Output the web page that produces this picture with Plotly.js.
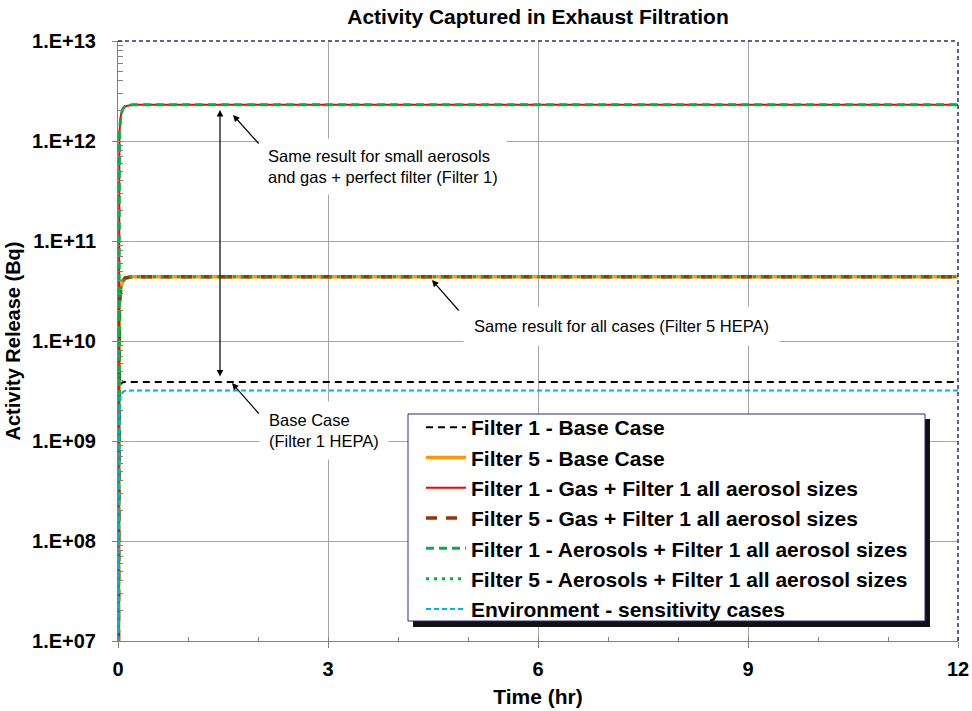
<!DOCTYPE html>
<html>
<head>
<meta charset="utf-8">
<script src="https://cdn.plot.ly/plotly-3.0.1.min.js"></script>
<style>html,body{margin:0;padding:0;background:#fff;}#chart{width:972px;height:711px;}</style>
</head>
<body>
<div id="chart"></div>
<script>
// ---- data ----
const timeHr = [0, 0.01, 0.02, 0.04, 0.07, 0.1, 0.15, 0.2, 1, 3, 6, 9, 12];
const filter1Base = [1e5, 2.0e9, 3.3e9, 3.75e9, 3.87e9, 3.9e9, 3.9e9, 3.9e9, 3.9e9, 3.9e9, 3.9e9, 3.9e9, 3.9e9];
const filter5Base = [1e5, 1.2e10, 2.3e10, 3.4e10, 4.0e10, 4.25e10, 4.35e10, 4.4e10, 4.4e10, 4.4e10, 4.4e10, 4.4e10, 4.4e10];
const filter1Gas = [1e5, 6e11, 1.2e12, 1.8e12, 2.1e12, 2.22e12, 2.28e12, 2.3e12, 2.3e12, 2.3e12, 2.3e12, 2.3e12, 2.3e12];
const filter5Gas = [1e5, 1.2e10, 2.3e10, 3.4e10, 4.0e10, 4.25e10, 4.35e10, 4.4e10, 4.4e10, 4.4e10, 4.4e10, 4.4e10, 4.4e10];
const filter1Aero = [1e5, 6e11, 1.2e12, 1.8e12, 2.1e12, 2.22e12, 2.28e12, 2.3e12, 2.3e12, 2.3e12, 2.3e12, 2.3e12, 2.3e12];
const filter5Aero = [1e5, 1.2e10, 2.3e10, 3.4e10, 4.0e10, 4.25e10, 4.35e10, 4.4e10, 4.4e10, 4.4e10, 4.4e10, 4.4e10, 4.4e10];
const environment = [1e5, 1.0e9, 2.0e9, 2.8e9, 3.1e9, 3.17e9, 3.2e9, 3.2e9, 3.2e9, 3.2e9, 3.2e9, 3.2e9, 3.2e9];

const seriesNames = [
  'Filter 1 - Base Case',
  'Filter 5 - Base Case',
  'Filter 1 - Gas + Filter 1 all aerosol sizes',
  'Filter 5 - Gas + Filter 1 all aerosol sizes',
  'Filter 1 - Aerosols + Filter 1 all aerosol sizes',
  'Filter 5 - Aerosols + Filter 1 all aerosol sizes',
  'Environment - sensitivity cases'
];

const xTickVals = [0, 3, 6, 9, 12];
const yTickVals = [1e7, 1e8, 1e9, 1e10, 1e11, 1e12, 1e13];
const yTickText = ['1.E+07', '1.E+08', '1.E+09', '1.E+10', '1.E+11', '1.E+12', '1.E+13'];

// ---- styling ----
const FONT = 'Liberation Sans, Arial, sans-serif';
const styles = [
  {color: '#000000', width: 2, dash: '7px,5px'},
  {color: '#FF9900', width: 3.5, dash: 'solid'},
  {color: '#FF0000', width: 2, dash: 'solid'},
  {color: '#993300', width: 3.5, dash: '11px,9px'},
  {color: '#00B050', width: 3, dash: '8px,5px'},
  {color: '#00B050', width: 3, dash: '3px,5px'},
  {color: '#00B0F0', width: 2, dash: '5px,3px'}
];
const seriesData = [filter1Base, filter5Base, filter1Gas, filter5Gas, filter1Aero, filter5Aero, environment];

const traces = seriesData.map((ys, i) => ({
  type: 'scatter', mode: 'lines',
  x: timeHr, y: ys, name: seriesNames[i],
  legendgroup: 'g' + i,
  line: Object.assign({shape: 'linear'}, styles[i]),
  hoverinfo: 'skip'
}));

// plot area geometry in pixels (for paper-coordinate helpers)
const PL = 118, PR = 958, PT = 41, PB = 641;
const px = v => (v - PL) / (PR - PL);
const py = v => (PB - v) / (PB - PT);

const annFont = {family: FONT, size: 16.5, color: '#000'};
const arrowBase = {showarrow: true, arrowhead: 2, arrowsize: 1.1, arrowwidth: 1.2, arrowcolor: '#000', text: '', xref: 'x', yref: 'y'};

const layout = {
  width: 972, height: 711,
  margin: {l: 118, r: 14, t: 41, b: 70, pad: 0},
  paper_bgcolor: '#fff', plot_bgcolor: '#fff',
  font: {family: FONT, color: '#000'},
  title: {
    text: 'Activity Captured in Exhaust Filtration',
    font: {family: FONT, size: 21, weight: 'bold', color: '#000'},
    x: 0.5, xref: 'paper', xanchor: 'center',
    y: 1 - 17 / 711, yref: 'container', yanchor: 'middle'
  },
  xaxis: {
    range: [0, 12], tickmode: 'array', tickvals: xTickVals,
    ticks: 'outside', ticklen: 6, tickcolor: '#808080', tickwidth: 1,
    ticklabelstandoff: 4,
    tickfont: {family: FONT, size: 20, weight: 'bold', color: '#000'},
    showgrid: true, gridcolor: '#A6A6A6', gridwidth: 1,
    zeroline: false, showline: true, linecolor: '#808080', linewidth: 1,
    minor: {ticks: 'inside', ticklen: 4, dtick: 1, tickcolor: '#808080', showgrid: false},
    title: {text: 'Time (hr)', font: {family: FONT, size: 21, weight: 'bold', color: '#000'}, standoff: 10}
  },
  yaxis: {
    type: 'log', range: [7, 13], tickmode: 'array', tickvals: yTickVals, ticktext: yTickText,
    ticks: 'outside', ticklen: 5, tickcolor: '#808080', tickwidth: 1,
    ticklabelstandoff: 12,
    tickfont: {family: FONT, size: 20, weight: 'bold', color: '#000'},
    showgrid: true, gridcolor: '#A6A6A6', gridwidth: 1,
    zeroline: false, showline: true, linecolor: '#808080', linewidth: 1,
    minor: {ticks: 'inside', ticklen: 5, dtick: 'D1', tickcolor: '#808080', showgrid: false},
    title: {text: 'Activity Release (Bq)', font: {family: FONT, size: 20, weight: 'bold', color: '#000'}, standoff: 6}
  },
  showlegend: true,
  legend: {
    x: px(421), y: py(407), xanchor: 'left', yanchor: 'top',
    xref: 'paper', yref: 'paper',
    bgcolor: 'rgba(0,0,0,0)', borderwidth: 0,
    font: {family: FONT, size: 21, weight: 'bold', color: '#000'},
    itemwidth: 40, tracegroupgap: 0, traceorder: 'grouped',
    itemclick: false, itemdoubleclick: false
  },
  shapes: [
    // legend drop shadow
    {type: 'rect', xref: 'paper', yref: 'paper', x0: px(413), x1: px(930), y0: py(627), y1: py(419),
     fillcolor: '#111', line: {width: 0}, layer: 'above'},
    // legend box
    {type: 'rect', xref: 'paper', yref: 'paper', x0: px(408), x1: px(925), y0: py(621), y1: py(414),
     fillcolor: '#fff', line: {width: 1, color: '#2B2B7A'}, layer: 'above'},
    // dashed navy top & right frame
    {type: 'line', xref: 'paper', yref: 'paper', x0: 0, x1: 1, y0: 1, y1: 1,
     line: {color: '#2B2B7A', width: 1.5, dash: '4px,3px'}, layer: 'above'},
    {type: 'line', xref: 'paper', yref: 'paper', x0: 1, x1: 1, y0: 0, y1: 1,
     line: {color: '#2B2B7A', width: 1.5, dash: '4px,3px'}, layer: 'above'}
  ],
  annotations: [
    // text boxes
    {xref: 'paper', yref: 'paper', x: px(259), y: py(166), xanchor: 'left', yanchor: 'middle',
     text: 'Same result for small aerosols<br>and gas + perfect filter (Filter 1)', align: 'left',
     showarrow: false, font: annFont, bgcolor: '#fff', borderpad: 8},
    {xref: 'paper', yref: 'paper', x: px(463), y: py(326), xanchor: 'left', yanchor: 'middle',
     text: 'Same result for all cases (Filter 5 HEPA)', align: 'left',
     showarrow: false, font: annFont, bgcolor: '#fff', borderpad: 10},
    {xref: 'paper', yref: 'paper', x: px(259), y: py(430), xanchor: 'left', yanchor: 'middle',
     text: 'Base Case<br>(Filter 1 HEPA)', align: 'left',
     showarrow: false, font: annFont, bgcolor: '#fff', borderpad: 9},
    // arrows
    Object.assign({}, arrowBase, {x: (233 - PL) / 70, y: 13 - (115 - PT) / 100, ax: 27, ay: 30}),
    Object.assign({}, arrowBase, {x: (220 - PL) / 70, y: 13 - (110 - PT) / 100, ax: 0, ay: 268, arrowside: 'end+start', startarrowhead: 2, startarrowsize: 1.1}),
    Object.assign({}, arrowBase, {x: (232 - PL) / 70, y: 13 - (383 - PT) / 100, ax: 28, ay: 32}),
    Object.assign({}, arrowBase, {x: (432 - PL) / 70, y: 13 - (280 - PT) / 100, ax: 28, ay: 32})
  ]
};

Plotly.newPlot('chart', traces, layout, {staticPlot: true, displayModeBar: false});
</script>
</body>
</html>
